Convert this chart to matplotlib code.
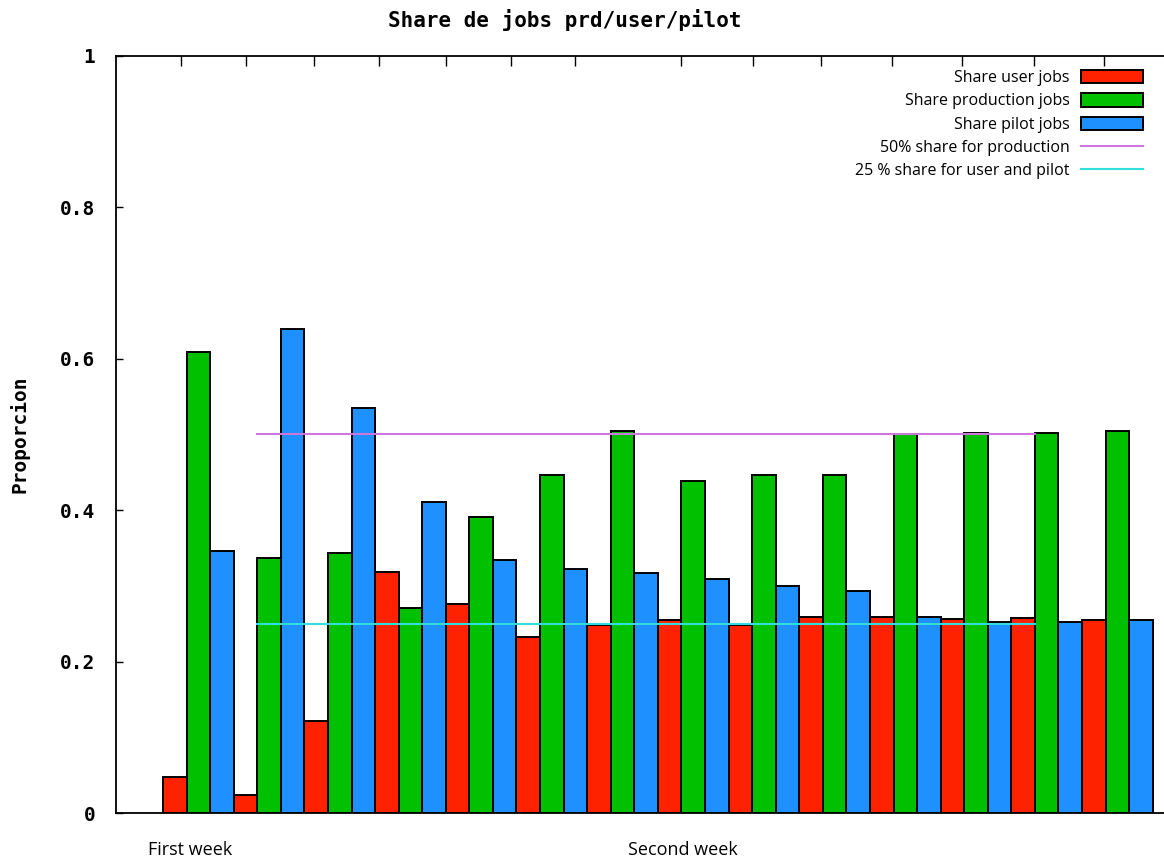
import matplotlib
matplotlib.use("Agg")
import matplotlib.pyplot as plt
import numpy as np

# share of jobs per group (14 groups: first and second week)
user_share = [0.047, 0.024, 0.122, 0.319, 0.276, 0.232, 0.249,
              0.255, 0.249, 0.259, 0.259, 0.256, 0.257, 0.255]
prod_share = [0.609, 0.337, 0.343, 0.271, 0.391, 0.447, 0.505,
              0.438, 0.447, 0.447, 0.500, 0.502, 0.502, 0.505]
pilot_share = [0.346, 0.640, 0.535, 0.411, 0.334, 0.322, 0.317,
               0.309, 0.300, 0.293, 0.259, 0.252, 0.252, 0.255]
target_prod = 0.5
target_user_pilot = 0.25
week_labels = ["First week", "Second week"]

mono = "DejaVu Sans Mono"
sans = "Open Sans"

fig = plt.figure(figsize=(11.64, 8.57), dpi=100)
ax = fig.add_axes([0.0997, 0.0513, 0.9003, 0.8834])

x = np.arange(len(user_share))
w = 1 / 3
b1 = ax.bar(x - w, user_share, w, color="#ff2200", edgecolor="black", linewidth=1.4,
            label="Share user jobs", zorder=2)
b2 = ax.bar(x, prod_share, w, color="#00c000", edgecolor="black", linewidth=1.4,
            label="Share production jobs", zorder=2)
b3 = ax.bar(x + w, pilot_share, w, color="#1e90ff", edgecolor="black", linewidth=1.4,
            label="Share pilot jobs", zorder=2)

# reference lines, from second group to the 13th
lx = [x[1] - w / 2, x[12] - w / 2]
l1, = ax.plot(lx, [target_prod] * 2, color="#cc77dd", linewidth=1.5,
              label="50% share for production", zorder=3)
l2, = ax.plot(lx, [target_user_pilot] * 2, color="#33dddd", linewidth=1.5,
              label="25 % share for user and pilot", zorder=3)

ax.set_xlim(-1.165, 13.66)
ax.set_ylim(0, 1)

for s in ["left", "bottom", "top"]:
    ax.spines[s].set_linewidth(1.3)
ax.spines["right"].set_visible(False)

ax.set_yticks([0, 0.2, 0.4, 0.6, 0.8, 1])
ax.set_yticklabels(["0", "0.2", "0.4", "0.6", "0.8", "1"],
                   fontfamily=mono, fontweight="bold", fontsize=14)
ax.tick_params(axis="y", direction="in", length=5, width=1, pad=15)

ax.set_xticks([-0.118, 6.855])
ax.set_xticklabels(week_labels, fontfamily=sans, fontsize=13)
ax.tick_params(axis="x", which="major", length=0, pad=20)
top_ticks = [-0.25, 0.68, 1.63, 2.56, 3.5, 4.42, 5.33, 6.83, 7.84,
             8.81, 9.81, 10.8, 11.82, 12.81]
ax.set_xticks(top_ticks, minor=True)
ax.tick_params(axis="x", which="minor", bottom=False, top=True,
               direction="in", length=7, width=1)

ax.set_ylabel("Proporcion", fontfamily=mono, fontweight="bold", fontsize=14,
              labelpad=22)
fig.text(565 / 1164, 1 - 20 / 857, "Share de jobs prd/user/pilot",
         fontfamily=mono, fontweight="bold", fontsize=15,
         ha="center", va="center")

leg = ax.legend([b1, b2, b3, l1, l2],
                [h.get_label() for h in [b1, b2, b3, l1, l2]],
                loc="upper right", bbox_to_anchor=(1151 / 1164, 1 - 62 / 857),
                bbox_transform=fig.transFigure, frameon=False,
                markerfirst=False, prop={"family": sans, "size": 11.5},
                handlelength=3.9, handleheight=0.9, labelspacing=0.45,
                handletextpad=0.7, borderpad=0)

fig.savefig("out.png", dpi=100)
